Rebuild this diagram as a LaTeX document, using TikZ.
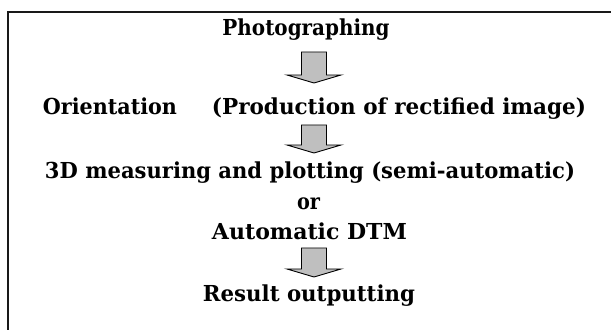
\documentclass[tikz,border=0pt]{standalone}
\usepackage{fontspec}
\setmainfont{DejaVu Serif}
\usetikzlibrary{calc}
\newcommand\fitto[2]{\resizebox{#1}{\height}{#2}}
\tikzset{
  lbl/.style={anchor=base, inner sep=0pt, font=\fontsize{22}{24}\selectfont\bfseries},
  frameline/.style={line width=1.4pt, draw=black!90},
  blockarrow/.style={draw=black, line width=0.9pt, fill=gray!50, line join=miter,
    to path={let \p1=(\tikztostart), \p2=(\tikztotarget) in
      (\x1-12.5pt,\y1) -- (\x1+12.5pt,\y1) -- (\x1+12.5pt,\y2+8pt) -- (\x1+27pt,\y2+8pt)
      -- (\x1,\y2) -- (\x1-27pt,\y2+8pt) -- (\x1-12.5pt,\y2+8pt) -- cycle}}
}
\begin{document}
\begin{tikzpicture}[x=1pt,y=-1pt]
\useasboundingbox (0,0) rectangle (611,336);
\fill[white] (0,0) rectangle (611,336);
% frame (top and left edges only)
\coordinate (ftl) at (8,12);
\coordinate (ftr) at (611,12);
\coordinate (fbl) at (8,330);
\draw[frameline] (ftr) -- (ftl) -- (fbl);
% texts
\node[lbl] (photo) at (306,36) {\fitto{167pt}{Photographing}};
\node[lbl] (orient) at (314.5,115) {\fitto{134pt}{Orientation}\hspace{35pt}\fitto{374pt}{(Production of rectified image)}};
\node[lbl] (meas) at (310,179) {\fitto{530pt}{3D measuring and plotting (semi-automatic)}};
\node[lbl] (or) at (308.5,210) {\fitto{23pt}{or}};
\node[lbl] (dtm) at (309.5,240) {\fitto{195pt}{Automatic DTM}};
\node[lbl] (res) at (309,302) {\fitto{212pt}{Result outputting}};
% block arrows
\coordinate (a1t) at (314,52);  \coordinate (a1h) at (314,83);
\coordinate (a2t) at (314,125); \coordinate (a2h) at (314,153);
\coordinate (a3t) at (314,248); \coordinate (a3h) at (314,277);
\draw[blockarrow] (a1t) to (a1h);
\draw[blockarrow] (a2t) to (a2h);
\draw[blockarrow] (a3t) to (a3h);
\end{tikzpicture}
\end{document}
